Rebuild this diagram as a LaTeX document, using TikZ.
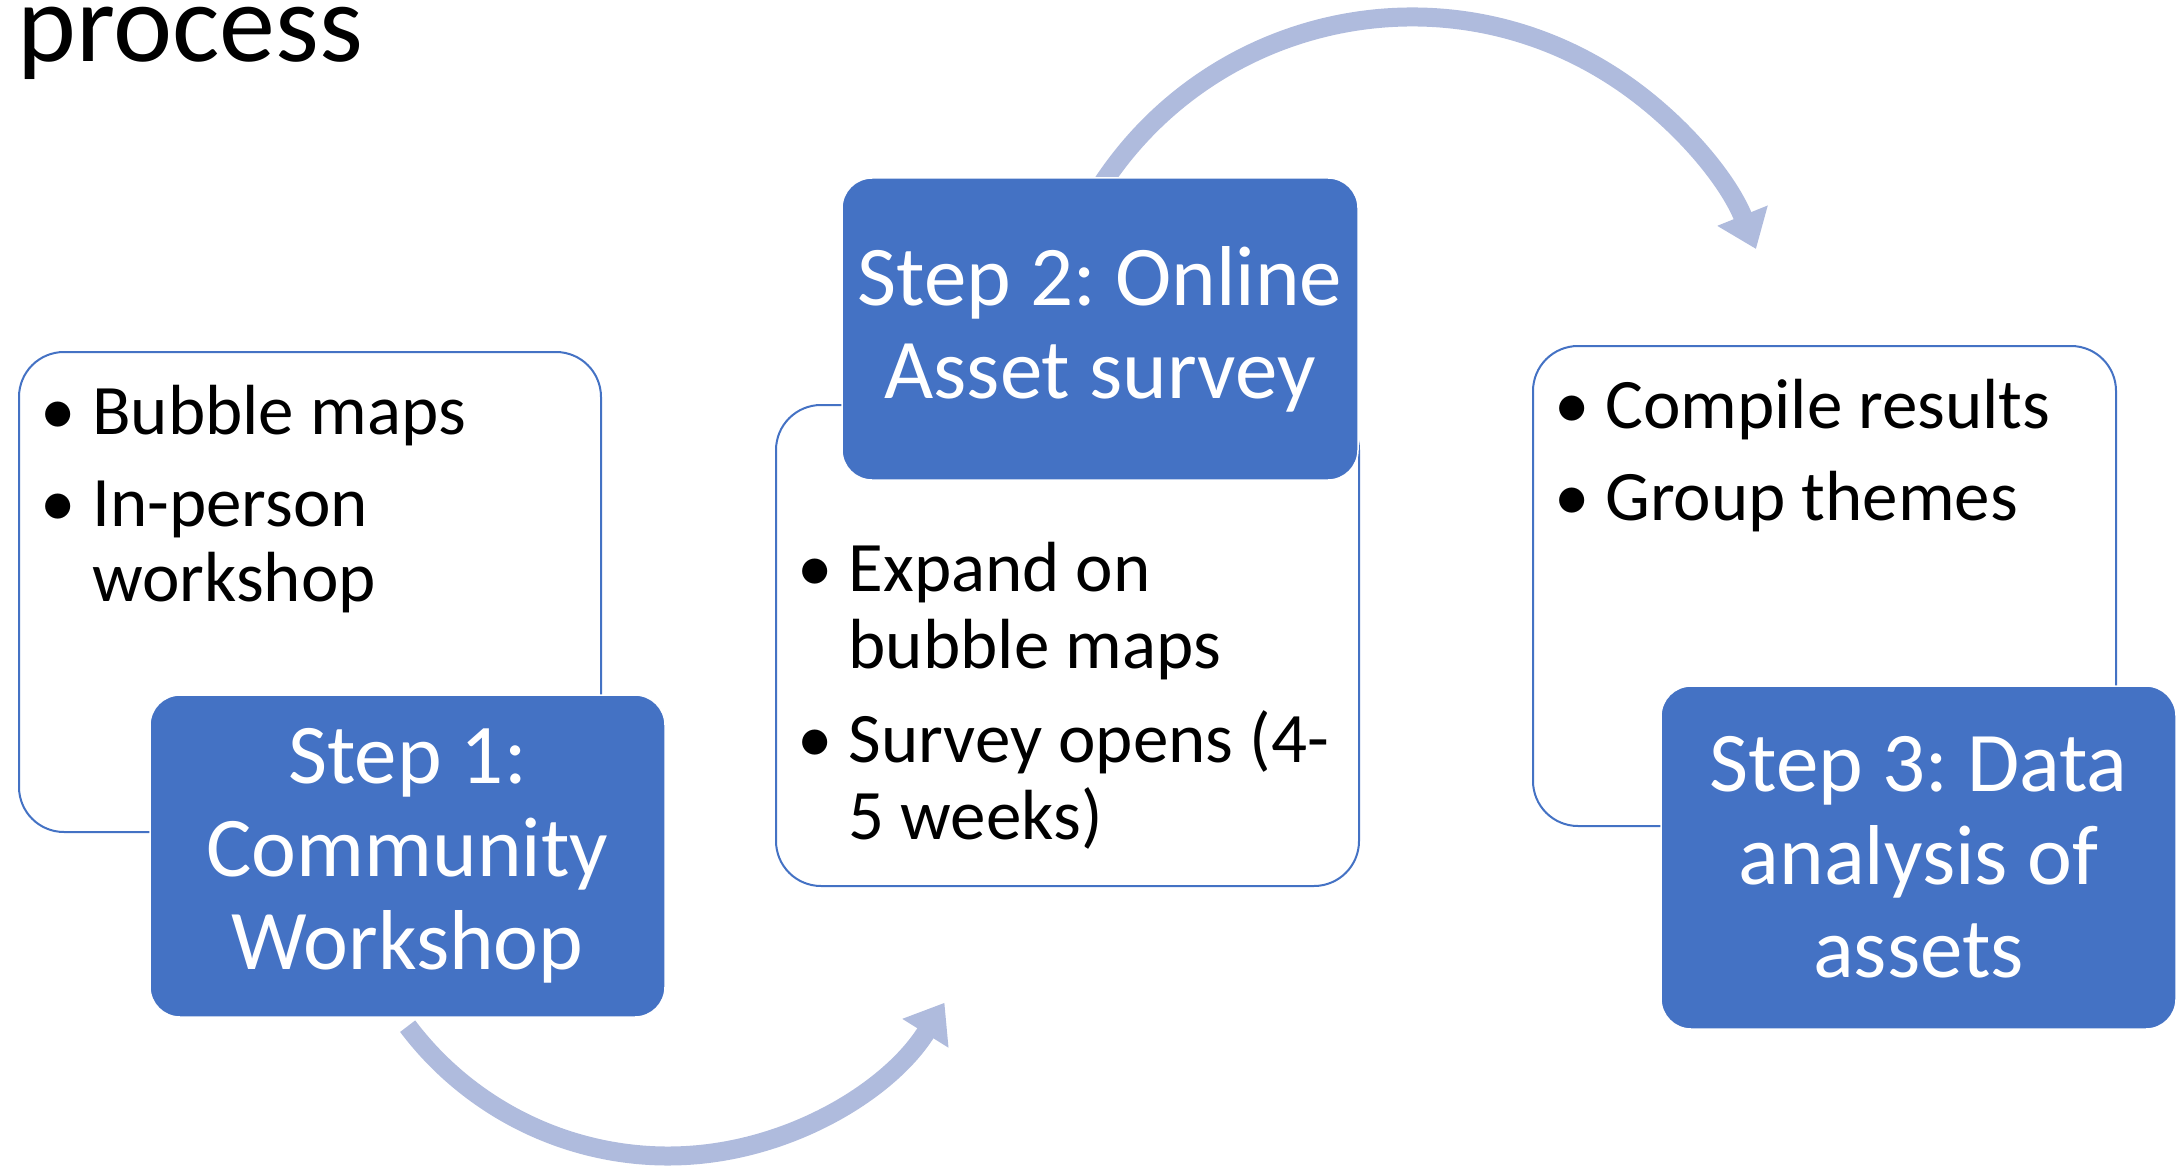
\documentclass[tikz,border=0pt]{standalone}
\usepackage{fontspec}
\setmainfont{Carlito}
\usetikzlibrary{arrows.meta}
\definecolor{accent}{HTML}{4472C4}
\definecolor{arrowc}{RGB}{175,187,221}
\frenchspacing
\begin{document}
\begin{tikzpicture}[x=1pt,y=-1pt,
  infobox/.style={draw=accent, line width=2pt, fill=white, rounded corners=45pt, inner sep=0pt, outer sep=0pt},
  stepbox/.style={draw=white, line width=1.5pt, fill=accent, rounded corners=30pt, inner sep=0pt, outer sep=0pt, text=white, align=center, font=\fontsize{85}{93}\selectfont},
  bul/.style={anchor=base, inner sep=0pt, font=\fontsize{71}{75}\selectfont},
  itm/.style={anchor=base west, inner sep=0pt, font=\fontsize{71}{75}\selectfont},
  flow/.style={draw=arrowc, line width=19pt, -{Triangle[length=36pt 0 0, width=52pt 0 0]}}
]
\useasboundingbox (0,0) rectangle (2181,1169);

% title fragment
\node[anchor=base west, inner sep=0pt, font=\fontsize{112}{120}\selectfont] (title) at (17,62) {process};

% circular arrows
\coordinate (c1) at (668,830);
\coordinate (c2) at (1412,388);
\draw[flow] ([shift={(143:326)}]c1) arc[start angle=143, end angle=32, radius=326];
\draw[flow] ([shift={(-147:371)}]c2) arc[start angle=-147, end angle=-22, radius=371];

% info boxes
\node[infobox, minimum width=582pt, minimum height=480pt] (i1) at (310,592) {};
\node[infobox, minimum width=583pt, minimum height=481pt] (i2) at (1067.5,645.5) {};
\node[infobox, minimum width=583pt, minimum height=480pt] (i3) at (1824.5,586) {};

% step boxes
\node[stepbox, minimum width=515pt, minimum height=322pt] (s1) at (407.5,856) {Step 1:\\Community\\Workshop};
\node[stepbox, minimum width=516pt, minimum height=302pt] (s2) at (1100,329) {Step 2: Online\\Asset survey};
\node[stepbox, minimum width=515pt, minimum height=343pt] (s3) at (1918.5,857.5) {Step 3: Data\\analysis of\\assets};

% box 1 bullets
\node[bul] (b1a) at (58,434) {•};
\node[itm] (t1a) at (92,434) {Bubble maps};
\node[bul] (b1b) at (58,526) {•};
\node[itm] (t1b) at (92,526) {In-person};
\node[itm] (t1c) at (92,601) {workshop};

% box 2 bullets
\node[bul] (b2a) at (815,591) {•};
\node[itm] (t2a) at (848.5,591) {Expand on};
\node[itm] (t2b) at (848.5,668) {bubble maps};
\node[bul] (b2b) at (815,762) {•};
\node[itm] (t2c) at (848.5,762) {Survey opens (4-};
\node[itm] (t2d) at (848.5,839) {5 weeks)};

% box 3 bullets
\node[bul] (b3a) at (1572,428) {•};
\node[itm] (t3a) at (1605,428) {Compile results};
\node[bul] (b3b) at (1572,520) {•};
\node[itm] (t3b) at (1605,520) {Group themes};
\end{tikzpicture}
\end{document}
